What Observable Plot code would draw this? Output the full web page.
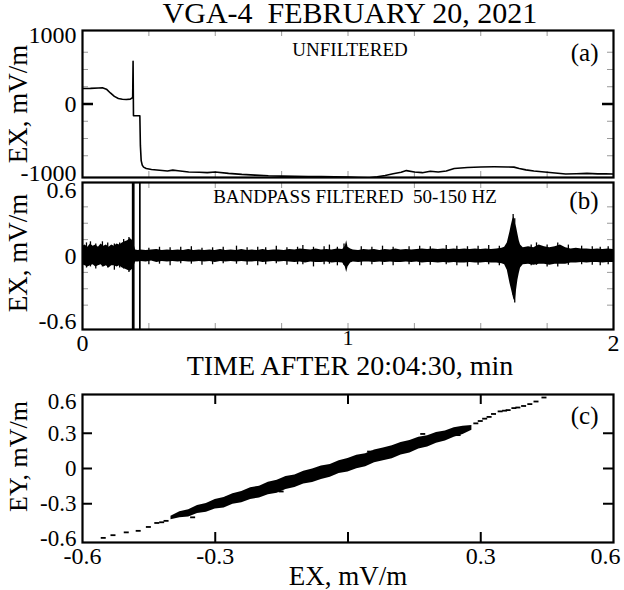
<!DOCTYPE html>
<html>
<head>
<meta charset="utf-8">
<script src="https://cdn.jsdelivr.net/npm/d3@7"></script>
<script src="https://cdn.jsdelivr.net/npm/@observablehq/plot@0.6"></script>
<style>
  html, body { margin: 0; padding: 0; background: #fff; }
  #chart { position: relative; width: 624px; height: 590px; overflow: hidden;
           font-family: "Liberation Serif", "Times New Roman", serif; color: #000; }
  #chart svg { position: absolute; left: 0; overflow: visible; }
  #title { position: absolute; top: -2px; left: 350px; transform: translateX(-50%);
           white-space: pre; font-size: 30px; line-height: 30px; }
</style>
</head>
<body>
<div id="chart"><div id="title">VGA-4  FEBRUARY 20, 2021</div></div>
<script>
// ---------------- data ----------------
// (a) unfiltered EX, time in minutes after 20:04:30
const rawT = [0, 0.03, 0.06, 0.075, 0.09, 0.105, 0.12, 0.135, 0.15, 0.165, 0.18, 0.187, 0.189, 0.1905, 0.192,
  0.205, 0.216, 0.218, 0.221, 0.225, 0.23, 0.24, 0.26, 0.29, 0.32, 0.34, 0.36, 0.40, 0.44, 0.47, 0.50, 0.55,
  0.60, 0.65, 0.70, 0.75, 0.80, 0.85, 0.90, 0.95, 1.00, 1.04, 1.08, 1.11, 1.14, 1.17, 1.20, 1.22, 1.25, 1.28,
  1.31, 1.34, 1.37, 1.40, 1.45, 1.50, 1.55, 1.60, 1.625, 1.645, 1.67, 1.70, 1.74, 1.78, 1.82, 1.86, 1.90,
  1.94, 1.97, 2.00];
const rawEX = [225, 226, 232, 235, 215, 160, 110, 80, 68, 65, 70, 90, 100, 620, -170,
  -170, -170, -600, -820, -885, -915, -935, -948, -960, -970, -958, -968, -985, -990, -995, -985, -1005,
  -1020, -1030, -1040, -1045, -1048, -1050, -1052, -1055, -1060, -1065, -1070, -1055, -1035, -1010, -990, -965, -985, -995,
  -975, -985, -970, -935, -920, -912, -910, -912, -915, -935, -955, -970, -985, -1000, -1015, -1010, -1005,
  -1012, -1010, -1015];

// (b) bandpass filtered EX: upper and lower envelope of the trace
const filtT = [0, 0.01, 0.02, 0.03, 0.04, 0.05, 0.06, 0.07, 0.08, 0.09, 0.10, 0.11, 0.12, 0.13, 0.14, 0.15, 0.16,
  0.17, 0.18, 0.19, 0.20, 0.21, 0.22, 0.24, 0.26, 0.28, 0.30, 0.32, 0.34, 0.36, 0.38, 0.40, 0.42, 0.44, 0.46,
  0.48, 0.50, 0.52, 0.54, 0.56, 0.58, 0.60, 0.62, 0.64, 0.66, 0.68, 0.70, 0.72, 0.74, 0.76, 0.78, 0.80, 0.82,
  0.84, 0.86, 0.88, 0.90, 0.92, 0.94, 0.96, 0.98, 0.99, 0.995, 1.00, 1.01, 1.02, 1.04, 1.06, 1.08, 1.10, 1.12,
  1.14, 1.16, 1.18, 1.20, 1.22, 1.24, 1.26, 1.28, 1.30, 1.32, 1.34, 1.36, 1.38, 1.40, 1.42, 1.44, 1.46, 1.48,
  1.50, 1.52, 1.54, 1.56, 1.58, 1.59, 1.60, 1.61, 1.615, 1.62, 1.625, 1.63, 1.635, 1.64, 1.645, 1.65, 1.66,
  1.68, 1.70, 1.72, 1.74, 1.76, 1.78, 1.80, 1.82, 1.84, 1.86, 1.88, 1.90, 1.92, 1.94, 1.96, 1.98, 2.00];
const filtHi = [0.09, 0.10, 0.08, 0.11, 0.09, 0.10, 0.08, 0.11, 0.09, 0.10, 0.08, 0.10, 0.09, 0.11, 0.10, 0.12, 0.13,
  0.14, 0.16, 0.14, 0.055, 0.05, 0.055,
  0.05, 0.055, 0.06, 0.05, 0.055, 0.05, 0.055, 0.05, 0.06, 0.05, 0.055, 0.05, 0.055, 0.05, 0.06, 0.05, 0.055, 0.05,
  0.06, 0.05, 0.055, 0.05, 0.06, 0.05, 0.055, 0.055, 0.05, 0.06, 0.055, 0.065, 0.06, 0.055, 0.065, 0.055, 0.06, 0.055,
  0.065, 0.06,
  0.09, 0.14, 0.08, 0.065,
  0.055, 0.05, 0.06, 0.055, 0.06, 0.05, 0.06, 0.055, 0.065, 0.055, 0.06, 0.055, 0.06, 0.065, 0.06, 0.065, 0.06, 0.065,
  0.06, 0.065, 0.06, 0.065, 0.06, 0.065, 0.06, 0.065, 0.06, 0.065, 0.07,
  0.08, 0.12, 0.22, 0.28, 0.33, 0.36, 0.30, 0.26, 0.20, 0.14, 0.10, 0.075,
  0.085, 0.075, 0.10, 0.085, 0.075, 0.085, 0.10, 0.075, 0.065, 0.07, 0.065, 0.065, 0.06, 0.065, 0.06, 0.065, 0.06];
const filtLo = [-0.08, -0.09, -0.10, -0.09, -0.08, -0.10, -0.09, -0.08, -0.10, -0.09, -0.11, -0.09, -0.09, -0.10, -0.09, -0.11, -0.12,
  -0.13, -0.14, -0.12, -0.055, -0.055, -0.05,
  -0.055, -0.045, -0.06, -0.05, -0.055, -0.05, -0.055, -0.05, -0.055, -0.055, -0.05, -0.055, -0.05, -0.06, -0.05, -0.055,
  -0.05, -0.055, -0.05, -0.055, -0.055, -0.05, -0.06, -0.055, -0.05, -0.055, -0.05, -0.055, -0.06, -0.055, -0.065, -0.055,
  -0.06, -0.06, -0.055, -0.065, -0.06, -0.065,
  -0.10, -0.15, -0.10, -0.065,
  -0.055, -0.06, -0.055, -0.055, -0.06, -0.055, -0.06, -0.055, -0.06, -0.06, -0.055, -0.06, -0.055, -0.065, -0.06, -0.06,
  -0.065, -0.06, -0.065, -0.06, -0.065, -0.065, -0.06, -0.065, -0.065, -0.06, -0.065, -0.065, -0.07,
  -0.08, -0.13, -0.25, -0.30, -0.35, -0.40, -0.41, -0.31, -0.22, -0.16, -0.11, -0.08,
  -0.075, -0.085, -0.075, -0.075, -0.085, -0.075, -0.075, -0.075, -0.065, -0.065, -0.06, -0.065, -0.06, -0.06, -0.065, -0.06, -0.06];
// isolated short bursts sticking out of the band
const burstT = [0.015, 0.03, 0.05, 0.075, 0.095, 0.12, 0.14, 0.155, 0.175, 0.25, 0.29, 0.33, 0.37, 0.41, 0.45, 0.49,
  0.53, 0.58, 0.62, 0.66, 0.69, 0.73, 0.77, 0.81, 0.83, 0.87, 0.91, 0.93, 0.96, 0.985, 1.05, 1.09, 1.13, 1.17, 1.23,
  1.27, 1.31, 1.37, 1.41, 1.45, 1.49, 1.53, 1.57, 1.622, 1.628, 1.69, 1.71, 1.75, 1.79, 1.83, 1.88, 1.92, 1.95, 1.98];
const burstHi = [0.12, 0.13, 0.11, 0.13, 0.12, 0.11, 0.12, 0.15, 0.17, 0.07, 0.08, 0.075, 0.08, 0.085, 0.07, 0.075,
  0.08, 0.09, 0.075, 0.08, 0.075, 0.09, 0.075, 0.08, 0.095, 0.08, 0.085, 0.10, 0.08, 0.11, 0.085, 0.08, 0.09, 0.08, 0.085,
  0.09, 0.085, 0.095, 0.09, 0.085, 0.09, 0.095, 0.09, 0.38, 0.34, 0.10, 0.12, 0.10, 0.12, 0.10, 0.09, 0.085, 0.08, 0.085];
const burstLo = [-0.11, -0.10, -0.12, -0.10, -0.11, -0.13, -0.11, -0.12, -0.15, -0.08, -0.075, -0.09, -0.07, -0.075, -0.085, -0.08,
  -0.07, -0.075, -0.085, -0.09, -0.08, -0.07, -0.085, -0.08, -0.08, -0.10, -0.08, -0.075, -0.09, -0.085, -0.09, -0.08, -0.085, -0.09, -0.08,
  -0.09, -0.085, -0.08, -0.09, -0.10, -0.085, -0.08, -0.09, -0.36, -0.43, -0.09, -0.085, -0.10, -0.10, -0.085, -0.08, -0.085, -0.09, -0.08];
// off-scale excursions at the step in the unfiltered field
const satT = [0.189, 0.193, 0.216];

// (c) hodogram EY vs EX: dense core and the sparse tails
const coreX = [-0.40, -0.38, -0.36, -0.34, -0.32, -0.30, -0.28, -0.26, -0.24, -0.22, -0.20, -0.18, -0.16, -0.14, -0.12,
  -0.10, -0.08, -0.06, -0.04, -0.02, 0.00, 0.02, 0.04, 0.06, 0.08, 0.10, 0.12, 0.14, 0.16, 0.18, 0.20, 0.22, 0.24, 0.26, 0.28];
const coreHi = [-0.407, -0.369, -0.352, -0.314, -0.297, -0.264, -0.246, -0.214, -0.196, -0.164, -0.151, -0.118, -0.101, -0.068, -0.056,
  -0.023, -0.005, 0.022, 0.035, 0.067, 0.085, 0.113, 0.125, 0.158, 0.175, 0.193, 0.221, 0.238, 0.266, 0.278, 0.306, 0.319, 0.346, 0.359, 0.366];
const coreLo = [-0.437, -0.419, -0.412, -0.384, -0.372, -0.344, -0.336, -0.304, -0.291, -0.264, -0.251, -0.223, -0.211, -0.178, -0.161,
  -0.133, -0.120, -0.093, -0.075, -0.043, -0.030, -0.002, 0.015, 0.048, 0.065, 0.083, 0.116, 0.133, 0.166, 0.183, 0.216, 0.234, 0.266, 0.289, 0.326];
// loose points just off the core
const strayX = [-0.35, -0.27, -0.15, 0.05, 0.17, 0.25];
const strayY = [-0.42, -0.25, -0.20, 0.14, 0.29, 0.28];
const tailX = [-0.552, -0.53, -0.50, -0.473, -0.45, -0.431, -0.42, -0.41, 0.29, 0.30, 0.31, 0.32, 0.33, 0.345,
  0.355, 0.363, 0.376, 0.385, 0.398, 0.412, 0.426, 0.444];
const tailY = [-0.595, -0.572, -0.548, -0.535, -0.502, -0.468, -0.462, -0.45, 0.38, 0.40, 0.42, 0.435, 0.46, 0.482,
  0.488, 0.493, 0.51, 0.515, 0.528, 0.544, 0.566, 0.60];

// tick values
const aMajorY = [-1000, 0, 1000];
const aMinorY = [-750, -500, -250, 250, 500, 750];
const bMajorY = [-0.6, 0, 0.6];
const bMinorY = [-0.45, -0.3, -0.15, 0.15, 0.3, 0.45];
const timeEnds = [0, 2];
const timeMid = [1];
const timeMinor = [0.25, 0.5, 0.75, 1, 1.25, 1.5, 1.75];
const cYLabels = [-0.6, -0.3, 0, 0.3];
const cYTop = [0.6];
const cInner = [-0.3, 0, 0.3];
const cXLabels = [-0.6, -0.3, 0.3];
const cXRight = [0.6];

// ---------------- layout ----------------
const W = 624, ML = 82, MR = 11, FW = W - ML - MR;
const serif = '"Liberation Serif", "Times New Roman", serif';
const fmt = d => String(d);

function yTicks(vals, len, opts) {
  return [
    Plot.tickY(vals, {y: d => d, insetRight: FW - len, ...opts}),
    Plot.tickY(vals, {y: d => d, insetLeft: FW - len, ...opts})
  ];
}
function xTicks(vals, frameH, len, opts) {
  return [
    Plot.tickX(vals, {x: d => d, insetBottom: frameH - len, ...opts}),
    Plot.tickX(vals, {x: d => d, insetTop: frameH - len, ...opts})
  ];
}
function place(svg, top) { svg.style.top = top + "px"; document.getElementById("chart").appendChild(svg); }

const minorStyle = {stroke: "#9a9a9a", strokeWidth: 1};
const majorStyle = {stroke: "#000", strokeWidth: 2.5};
const baseStyle = {fontFamily: serif, fontSize: "24px", color: "#000", background: "transparent"};

// ---- panel (a)
{
  const mt = 30, mb = 3, H = 180, FH = H - mt - mb;
  const rows = rawT.map((t, i) => ({t, v: rawEX[i]}));
  const svg = Plot.plot({
    width: W, height: H, marginLeft: ML, marginRight: MR, marginTop: mt, marginBottom: mb,
    style: baseStyle,
    x: {domain: [0, 2], axis: null},
    y: {domain: [-1065, 1065], axis: null},
    marks: [
      ...yTicks(aMinorY, 6, minorStyle),
      ...yTicks([0], 11, majorStyle),
      ...xTicks(timeMinor, FH, 6, minorStyle),
      Plot.line(rows, {x: "t", y: "v", stroke: "#000", strokeWidth: 1.6, clip: true}),
      Plot.frame({stroke: "#000", strokeWidth: 2.2}),
      Plot.axisY({ticks: aMajorY, tickSize: 0, tickPadding: 6, tickFormat: fmt, label: null, fontSize: 24}),
      Plot.text(["EX, mV/m"], {frameAnchor: "left", rotate: -90, dx: -64, dy: 0, fontSize: 27, textAnchor: "middle", lineAnchor: "middle"}),
      Plot.text(["UNFILTERED"], {frameAnchor: "top", dx: 2, dy: 19, fontSize: 19, textAnchor: "middle", lineAnchor: "middle"}),
      Plot.text(["(a)"], {frameAnchor: "top-right", dx: -15, dy: 22, fontSize: 25, textAnchor: "end", lineAnchor: "middle"})
    ]
  });
  place(svg, 0);
}

// ---- panel (b)
{
  const mt = 5, mb = 48, H = 200, FH = H - mt - mb;
  const band = filtT.map((t, i) => ({t, hi: filtHi[i], lo: filtLo[i]}));
  const bursts = burstT.map((t, i) => ({t, hi: burstHi[i], lo: burstLo[i]}));
  const svg = Plot.plot({
    width: W, height: H, marginLeft: ML, marginRight: MR, marginTop: mt, marginBottom: mb,
    style: baseStyle,
    x: {domain: [0, 2], axis: null},
    y: {domain: [-0.673, 0.673], axis: null},
    marks: [
      ...yTicks(bMinorY, 6, minorStyle),
      ...yTicks([0], 11, majorStyle),
      ...xTicks(timeMinor, FH, 6, minorStyle),
      Plot.areaY(band, {x: "t", y1: "lo", y2: "hi", fill: "#000", clip: true}),
      Plot.ruleX(bursts, {x: "t", y1: "lo", y2: "hi", stroke: "#000", strokeWidth: 1.3, clip: true}),
      Plot.ruleX(satT, {x: d => d, stroke: "#000", strokeWidth: 1.7}),
      Plot.frame({stroke: "#000", strokeWidth: 2.2}),
      Plot.axisY({ticks: bMajorY, tickSize: 0, tickPadding: 6, tickFormat: fmt, label: null, fontSize: 24}),
      Plot.axisX({ticks: timeEnds, tickSize: 0, tickPadding: 4, tickFormat: fmt, label: null, fontSize: 24}),
      Plot.axisX({ticks: timeMid, tickSize: 0, tickPadding: 4, tickFormat: fmt, label: null, fontSize: 22, dy: -4}),
      Plot.text(["TIME AFTER 20:04:30, min"], {frameAnchor: "bottom", dx: 2, dy: 37, fontSize: 28, textAnchor: "middle", lineAnchor: "middle"}),
      Plot.text(["EX, mV/m"], {frameAnchor: "left", rotate: -90, dx: -64, dy: -3, fontSize: 27, textAnchor: "middle", lineAnchor: "middle"}),
      Plot.text(["BANDPASS FILTERED  50-150 HZ"], {frameAnchor: "top", dx: 7, dy: 14, fontSize: 19, textAnchor: "middle", lineAnchor: "middle"}),
      Plot.text(["(b)"], {frameAnchor: "top-right", dx: -15, dy: 18, fontSize: 25, textAnchor: "end", lineAnchor: "middle"})
    ]
  });
  place(svg, 177);
}

// ---- panel (c)
{
  const mt = 17, mb = 48, H = 213, FH = H - mt - mb;
  const core = coreX.map((x, i) => ({x, lo: coreLo[i], hi: coreHi[i]}));
  const strays = strayX.map((x, i) => ({x, y: strayY[i]}));
  const tails = tailX.map((x, i) => ({x, y: tailY[i]}));
  const dash = {x1: "x", x2: "x", y1: "y", y2: "y", fill: "#000", insetLeft: -2.5, insetRight: -2.5, insetTop: -0.9, insetBottom: -0.9};
  const svg = Plot.plot({
    width: W, height: H, marginLeft: ML, marginRight: MR, marginTop: mt, marginBottom: mb,
    style: baseStyle,
    x: {domain: [-0.6, 0.6], axis: null},
    y: {domain: [-0.63, 0.63], axis: null},
    marks: [
      ...yTicks(cInner, 10, {stroke: "#000", strokeWidth: 2}),
      ...xTicks(cInner, FH, 10, {stroke: "#000", strokeWidth: 2}),
      Plot.areaY(core, {x: "x", y1: "lo", y2: "hi", fill: "#000", curve: "linear"}),
      Plot.rect(strays, dash),
      Plot.rect(tails, dash),
      Plot.frame({stroke: "#000", strokeWidth: 2.2}),
      Plot.axisY({ticks: cYLabels, tickSize: 0, tickPadding: 6, tickFormat: fmt, label: null, fontSize: 23}),
      Plot.axisY({ticks: cYTop, tickSize: 0, tickPadding: 6, tickFormat: fmt, label: null, fontSize: 23, dy: 4}),
      Plot.axisX({ticks: cXLabels, tickSize: 0, tickPadding: 4, tickFormat: fmt, label: null, fontSize: 24}),
      Plot.axisX({ticks: cXRight, tickSize: 0, tickPadding: 4, tickFormat: fmt, label: null, fontSize: 24, dx: -8}),
      Plot.text(["EX, mV/m"], {frameAnchor: "bottom", dy: 34, fontSize: 27, textAnchor: "middle", lineAnchor: "middle"}),
      Plot.text(["EY, mV/m"], {frameAnchor: "left", rotate: -90, dx: -64, dy: -12, fontSize: 26, textAnchor: "middle", lineAnchor: "middle"}),
      Plot.text(["(c)"], {frameAnchor: "top-right", dx: -15, dy: 21, fontSize: 25, textAnchor: "end", lineAnchor: "middle"})
    ]
  });
  place(svg, 377);
}
</script>
</body>
</html>
